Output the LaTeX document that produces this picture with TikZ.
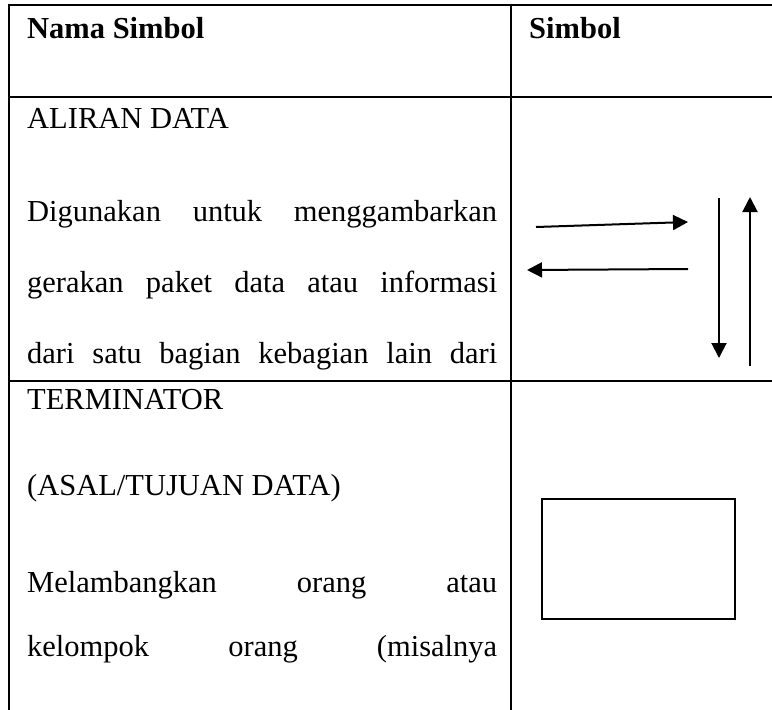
\documentclass[tikz,border=0pt]{standalone}
\usepackage{fontspec}
\setmainfont{Liberation Serif}
\usetikzlibrary{arrows.meta}
\begin{document}
\begin{tikzpicture}[x=1pt,y=-1pt,
  txt/.style={anchor=base west,inner sep=0pt,font=\fontsize{30.5}{36}\selectfont},
  hdr/.style={anchor=base west,inner sep=0pt,font=\fontsize{30.5}{36}\selectfont\bfseries},
  rule/.style={line width=2pt},
  flow/.style={line width=2pt,-{Triangle[length=15pt,width=15pt]}},
  symbox/.style={draw,line width=1.8pt,minimum width=193pt,minimum height=120pt,inner sep=0pt}]
\useasboundingbox (0,0) rectangle (772,710);
% table grid
\draw[rule] (772,5) -- (9,5) -- (9,710);
\draw[rule] (511,5) -- (511,710);
\draw[rule] (9,97) -- (772,97);
\draw[rule] (9,381) -- (772,381);
% header
\node[hdr] (h1) at (27,38) {Nama Simbol};
\node[hdr] (h2) at (529,38) {Simbol};
% row 1
\node[txt] (a1) at (27,128) {ALIRAN DATA};
\node[txt] (a2) at (27,221) {\makebox[470pt][s]{Digunakan untuk menggambarkan}};
\node[txt] (a3) at (27,292) {\makebox[470pt][s]{gerakan paket data atau informasi}};
\node[txt] (a4) at (27,363) {\makebox[470pt][s]{dari satu bagian kebagian lain dari}};
% arrows
\coordinate (r1) at (536,227);
\coordinate (r2) at (688,222);
\coordinate (l1) at (688,269);
\coordinate (l2) at (527,270);
\coordinate (d1) at (719,198);
\coordinate (d2) at (719,358);
\coordinate (u1) at (750,366);
\coordinate (u2) at (750,197);
\draw[flow] (r1) -- (r2);
\draw[flow] (l1) -- (l2);
\draw[flow] (d1) -- (d2);
\draw[flow] (u1) -- (u2);
% row 2
\node[txt] (b1) at (27,409) {TERMINATOR};
\node[txt] (b2) at (27,495) {(ASAL/TUJUAN DATA)};
\node[txt] (b3) at (27,592) {\makebox[470pt][s]{Melambangkan orang atau}};
\node[txt] (b4) at (27,656) {\makebox[470pt][s]{kelompok orang (misalnya}};
\node[symbox] (term) at (638.5,559) {};
\end{tikzpicture}
\end{document}
